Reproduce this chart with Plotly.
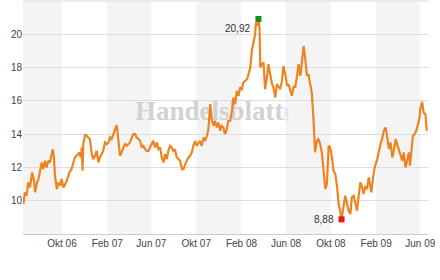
import numpy as np
import plotly.graph_objects as go

dates = [
"2006-06-18","2006-06-22","2006-06-27","2006-07-01","2006-07-06","2006-07-12","2006-07-17","2006-07-20","2006-07-24","2006-07-29",
"2006-08-07","2006-08-11","2006-08-16","2006-08-20","2006-08-25","2006-08-29","2006-09-06","2006-09-09","2006-09-12","2006-09-17",
"2006-09-21","2006-09-26","2006-09-30","2006-10-05","2006-10-14","2006-10-21","2006-10-27","2006-11-01","2006-11-05","2006-11-10",
"2006-11-17","2006-11-21","2006-11-24","2006-11-26","2006-11-28","2006-12-03","2006-12-07","2006-12-12","2006-12-16","2006-12-21",
"2006-12-25","2006-12-30","2007-01-03","2007-01-08","2007-01-12","2007-01-17","2007-01-21","2007-01-26","2007-01-31","2007-02-04",
"2007-02-09","2007-02-13","2007-02-18","2007-02-22","2007-02-27","2007-03-02","2007-03-05","2007-03-08","2007-03-12","2007-03-17",
"2007-03-21","2007-03-26","2007-03-30","2007-04-04","2007-04-09","2007-04-13","2007-04-18","2007-04-22","2007-04-27","2007-05-01",
"2007-05-06","2007-05-10","2007-05-15","2007-05-19","2007-05-24","2007-05-28","2007-06-02","2007-06-06","2007-06-11","2007-06-16",
"2007-06-20","2007-06-25","2007-06-29","2007-07-04","2007-07-08","2007-07-13","2007-07-17","2007-07-22","2007-07-26","2007-07-31",
"2007-08-04","2007-08-09","2007-08-14","2007-08-18","2007-08-23","2007-08-27","2007-09-01","2007-09-05","2007-09-10","2007-09-14",
"2007-09-19","2007-09-23","2007-09-28","2007-10-02","2007-10-07","2007-10-11","2007-10-16","2007-10-21","2007-10-25","2007-10-30",
"2007-11-03","2007-11-08","2007-11-12","2007-11-17","2007-11-21","2007-11-26","2007-11-30","2007-12-05","2007-12-09","2007-12-14",
"2007-12-18","2007-12-23","2007-12-27","2008-01-01","2008-01-06","2008-01-10","2008-01-15","2008-01-19","2008-01-24","2008-01-28",
"2008-02-02","2008-02-06","2008-02-11","2008-02-16","2008-02-20","2008-02-25","2008-02-29","2008-03-05","2008-03-09","2008-03-11",
"2008-03-14","2008-03-18","2008-03-21","2008-03-23","2008-03-27","2008-04-01","2008-04-05","2008-04-10","2008-04-14","2008-04-19",
"2008-04-24","2008-04-28","2008-05-03","2008-05-07","2008-05-12","2008-05-16","2008-05-21","2008-05-25","2008-05-30","2008-06-04",
"2008-06-08","2008-06-13","2008-06-17","2008-06-22","2008-06-26","2008-07-01","2008-07-05","2008-07-10","2008-07-14","2008-07-19",
"2008-07-23","2008-07-28","2008-08-01","2008-08-06","2008-08-10","2008-08-15","2008-08-19","2008-08-24","2008-08-28","2008-09-02",
"2008-09-07","2008-09-11","2008-09-16","2008-09-20","2008-09-25","2008-09-29","2008-10-04","2008-10-08","2008-10-13","2008-10-18",
"2008-10-22","2008-10-27","2008-10-30","2008-11-04","2008-11-09","2008-11-14","2008-11-18","2008-11-23","2008-11-27","2008-12-02",
"2008-12-06","2008-12-11","2008-12-15","2008-12-20","2008-12-25","2008-12-29","2009-01-03","2009-01-07","2009-01-12","2009-01-16",
"2009-01-19","2009-01-23","2009-01-28","2009-02-04","2009-02-08","2009-02-13","2009-02-17","2009-02-22","2009-02-27","2009-03-03",
"2009-03-08","2009-03-12","2009-03-17","2009-03-21","2009-03-26","2009-03-30","2009-04-04","2009-04-08","2009-04-13","2009-04-17",
"2009-04-22","2009-04-26","2009-05-01","2009-05-04","2009-05-08","2009-05-12","2009-05-17","2009-05-21","2009-05-26","2009-05-30",
"2009-06-01","2009-06-06","2009-06-10","2009-06-15","2009-06-17","2009-06-19",
]

prices = [
9.8,10.5,10.3,11.1,10.8,11.7,11.2,10.5,11.0,11.3,
12.3,11.9,12.4,12.0,12.4,12.3,13.1,12.6,11.5,10.7,
11.1,10.9,11.3,10.8,11.2,11.7,11.9,12.3,12.6,12.7,
12.9,12.6,13.2,11.8,13.4,14.0,13.9,13.8,13.7,12.8,
12.5,12.7,13.0,12.3,12.6,12.8,13.0,13.5,13.4,13.5,
13.8,13.7,14.0,14.2,14.55,13.9,13.4,12.7,12.9,13.2,
13.4,13.3,13.4,13.5,13.8,14.0,14.0,13.8,13.7,13.6,
13.2,13.3,13.1,13.0,13.0,13.2,13.5,13.6,13.2,13.5,
13.1,13.2,12.6,12.3,12.8,12.5,13.0,13.3,13.2,13.0,
13.1,12.6,12.5,12.4,11.9,11.9,12.2,12.4,12.6,12.7,
12.9,13.3,13.6,13.3,13.5,13.6,13.3,13.8,13.6,13.9,
14.3,15.8,14.9,14.5,14.8,14.4,14.7,14.2,14.5,14.4,
14.0,14.3,14.8,14.8,15.4,16.2,15.8,16.6,16.3,16.8,
16.7,17.1,17.2,17.3,17.6,18.0,19.0,19.6,20.0,20.7,
20.5,20.92,20.4,18.0,18.2,18.3,16.7,17.4,18.2,17.6,
17.0,16.8,16.2,17.0,16.8,16.7,17.2,18.1,17.6,16.9,
17.0,16.6,16.3,16.9,16.8,17.5,18.2,17.5,18.4,19.3,
18.6,17.5,17.6,17.1,16.5,14.8,12.9,13.6,13.7,13.4,
12.8,11.8,10.7,11.0,13.3,13.2,12.6,11.8,11.6,10.8,
9.8,9.3,8.88,9.6,10.3,9.8,9.4,9.2,10.2,10.3,
9.8,9.4,10.2,11.1,10.8,10.4,10.9,10.7,11.4,10.8,
10.5,11.3,12.0,12.5,13.0,13.4,13.7,14.2,14.4,13.8,
13.1,13.5,12.6,13.0,13.7,13.4,13.0,12.8,12.4,12.9,
12.0,12.4,12.9,12.1,13.2,13.9,14.0,14.2,14.6,15.0,
15.5,15.95,15.3,15.2,14.6,14.2,
]

tick_dates = ["2006-10-01","2007-02-01","2007-06-01","2007-10-01","2008-02-01",
              "2008-06-01","2008-10-01","2009-02-01","2009-06-01"]
tick_labels = ["Okt 06","Feb 07","Jun 07","Okt 07","Feb 08","Jun 08","Okt 08","Feb 09","Jun 09"]
y_ticks = [10, 12, 14, 16, 18, 20]

x_start, x_end = "2006-06-17", "2009-06-22"

font = "Liberation Sans, Arial, sans-serif"
fig = go.Figure()

# alternating shaded bands
band_edges = [x_start] + tick_dates + [x_end]
shapes = []
for i in range(0, len(band_edges) - 1, 2):
    shapes.append(dict(type="rect", xref="x", yref="paper", x0=band_edges[i], x1=band_edges[i + 1],
                       y0=0, y1=1, fillcolor="#f4f4f4", line=dict(width=0), layer="below"))
# top frame line
shapes.append(dict(type="line", xref="paper", yref="paper", x0=0, x1=1, y0=1, y1=1,
                   line=dict(color="#d9d9d9", width=1), layer="below"))
# watermark
shapes.append(dict(type="rect", xref="paper", yref="paper", x0=0.25, x1=0.67, y0=0.47, y1=0.61,
                   line=dict(width=0), fillcolor="rgba(0,0,0,0)", layer="below",
                   label=dict(text="<b>Handelsblatt</b>",
                              font=dict(family="Liberation Serif, Times New Roman, serif",
                                        size=27, color="#d2d2d2"))))
shapes.append(dict(type="rect", xref="paper", yref="paper", x0=0.63, x1=0.66, y0=0.44, y1=0.58,
                   line=dict(width=0), fillcolor="rgba(0,0,0,0)", layer="below",
                   label=dict(text=".com", textangle=-90, font=dict(family=font, size=7, color="#d2d2d2"))))

fig.add_trace(go.Scatter(x=dates, y=prices, mode="lines",
                         line=dict(color="#EE8420", width=2.2), hoverinfo="skip"))

imax = int(np.argmax(prices))
imin = int(np.argmin(prices))
fig.add_trace(go.Scatter(x=[dates[imax]], y=[prices[imax]], mode="markers",
                         marker=dict(symbol="square", size=6, color="#1a8c1a")))
fig.add_trace(go.Scatter(x=[dates[imin]], y=[prices[imin]], mode="markers",
                         marker=dict(symbol="square", size=6, color="#ee1111")))

def fmt(v):
    return f"{v:.2f}".replace(".", ",")

annotations = [
    dict(x=dates[imax], y=prices[imax], text=fmt(prices[imax]), showarrow=False,
         xanchor="right", yanchor="middle", xshift=-6, yshift=-10,
         font=dict(family=font, size=10, color="#333")),
    dict(x=dates[imin], y=prices[imin], text=fmt(prices[imin]), showarrow=False,
         xanchor="right", yanchor="middle", xshift=-6, yshift=0,
         font=dict(family=font, size=10, color="#333")),
]

fig.update_layout(
    width=440, height=280,
    margin=dict(l=23, r=12, t=1, b=46),
    paper_bgcolor="white", plot_bgcolor="white",
    showlegend=False,
    shapes=shapes, annotations=annotations,
    font=dict(family=font, size=10, color="#444"),
    xaxis=dict(type="date", range=[x_start, x_end], tickvals=tick_dates, ticktext=tick_labels,
               showgrid=False, showline=True, linecolor="#cccccc", linewidth=1, ticks="",
               zeroline=False, fixedrange=True, tickfont=dict(size=10, color="#444")),
    yaxis=dict(range=[8, 22], tickvals=y_ticks, showgrid=True, gridcolor="#dddddd", gridwidth=1,
               zeroline=False, showline=False, ticks="", fixedrange=True,
               tickfont=dict(size=10, color="#444")),
)

fig.write_html("out.html")
